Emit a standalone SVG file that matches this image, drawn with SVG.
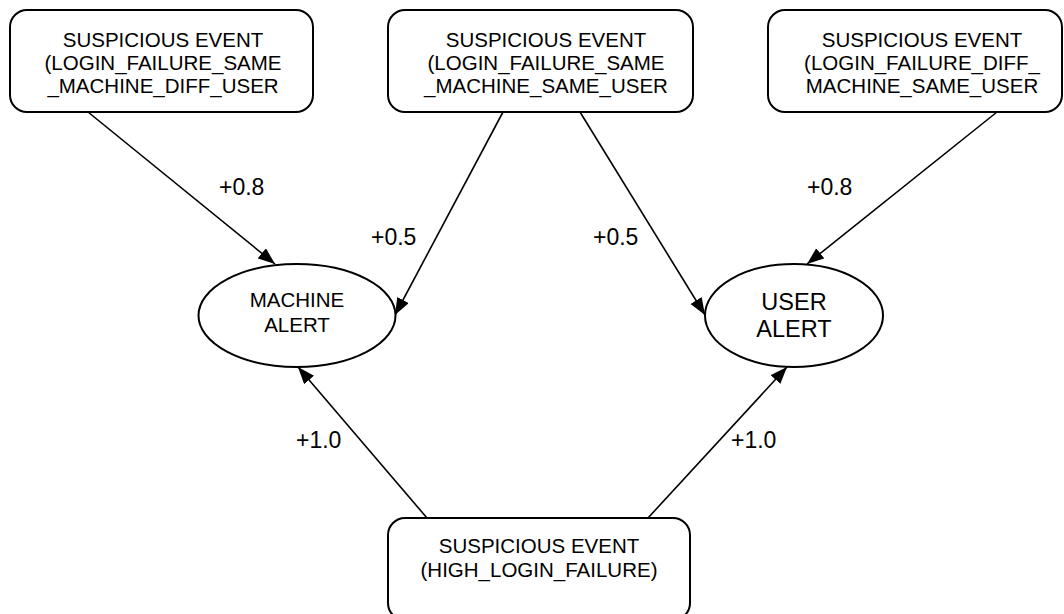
<svg xmlns="http://www.w3.org/2000/svg" width="1064" height="614" viewBox="0 0 1064 614">
<style>
.box{fill:#fff;stroke:#000;stroke-width:2}
.t{font-family:"Liberation Sans",Arial,sans-serif;fill:#000;text-anchor:middle}
.bt{font-size:20.5px}
.lbl{font-family:"Liberation Sans",Arial,sans-serif;font-size:23px;fill:#000}
.edge{stroke:#000;stroke-width:1.6;fill:none;marker-end:url(#arr)}
</style>
<defs>
<marker id="arr" markerUnits="userSpaceOnUse" markerWidth="18" markerHeight="14" refX="17" refY="6.5" orient="auto">
<path d="M0,0 L17,6.5 L0,13 z" fill="#000"/>
</marker>
</defs>
<rect width="1064" height="614" fill="#fff"/>
<g id="connectors">
<line class="edge" x1="88" y1="112" x2="275" y2="264"/>
<line class="edge" x1="503" y1="112" x2="395" y2="315"/>
<line class="edge" x1="580" y1="112" x2="705" y2="315"/>
<line class="edge" x1="997" y1="112" x2="807" y2="264"/>
<line class="edge" x1="427" y1="518" x2="298" y2="367"/>
<line class="edge" x1="648" y1="518" x2="787" y2="367"/>
<text class="lbl" x="219" y="195">+0.8</text>
<text class="lbl" x="371" y="245">+0.5</text>
<text class="lbl" x="593" y="245">+0.5</text>
<text class="lbl" x="807" y="195">+0.8</text>
<text class="lbl" x="296" y="448">+1.0</text>
<text class="lbl" x="731" y="448">+1.0</text>
</g>
<g id="event1">
<rect class="box" x="10" y="10" width="303" height="102" rx="17"/>
<text class="t bt" x="163" y="47">SUSPICIOUS EVENT</text>
<text class="t bt" x="163" y="70">(LOGIN_FAILURE_SAME</text>
<text class="t bt" x="163" y="93">_MACHINE_DIFF_USER</text>
</g>
<g id="event2">
<rect class="box" x="388" y="10" width="305" height="102" rx="17"/>
<text class="t bt" x="546" y="47">SUSPICIOUS EVENT</text>
<text class="t bt" x="546" y="70">(LOGIN_FAILURE_SAME</text>
<text class="t bt" x="546" y="93">_MACHINE_SAME_USER</text>
</g>
<g id="event3">
<rect class="box" x="768" y="10" width="294" height="102" rx="17"/>
<text class="t bt" x="922" y="47">SUSPICIOUS EVENT</text>
<text class="t bt" x="922" y="70">(LOGIN_FAILURE_DIFF_</text>
<text class="t bt" x="922" y="93">MACHINE_SAME_USER</text>
</g>
<g id="event4">
<rect class="box" x="388" y="518" width="302" height="102" rx="17"/>
<text class="t bt" x="539" y="553">SUSPICIOUS EVENT</text>
<text class="t bt" x="539" y="577">(HIGH_LOGIN_FAILURE)</text>
</g>
<g id="machineAlert">
<ellipse class="box" cx="297" cy="315.5" rx="98.5" ry="51.5"/>
<text class="t" style="font-size:20.5px" x="297" y="307">MACHINE</text>
<text class="t" style="font-size:20.5px" x="297" y="332">ALERT</text>
</g>
<g id="userAlert">
<ellipse class="box" cx="794" cy="315.5" rx="89" ry="51.5"/>
<text class="t" style="font-size:23.5px" x="794" y="310">USER</text>
<text class="t" style="font-size:23.5px" x="794" y="337">ALERT</text>
</g>
</svg>
